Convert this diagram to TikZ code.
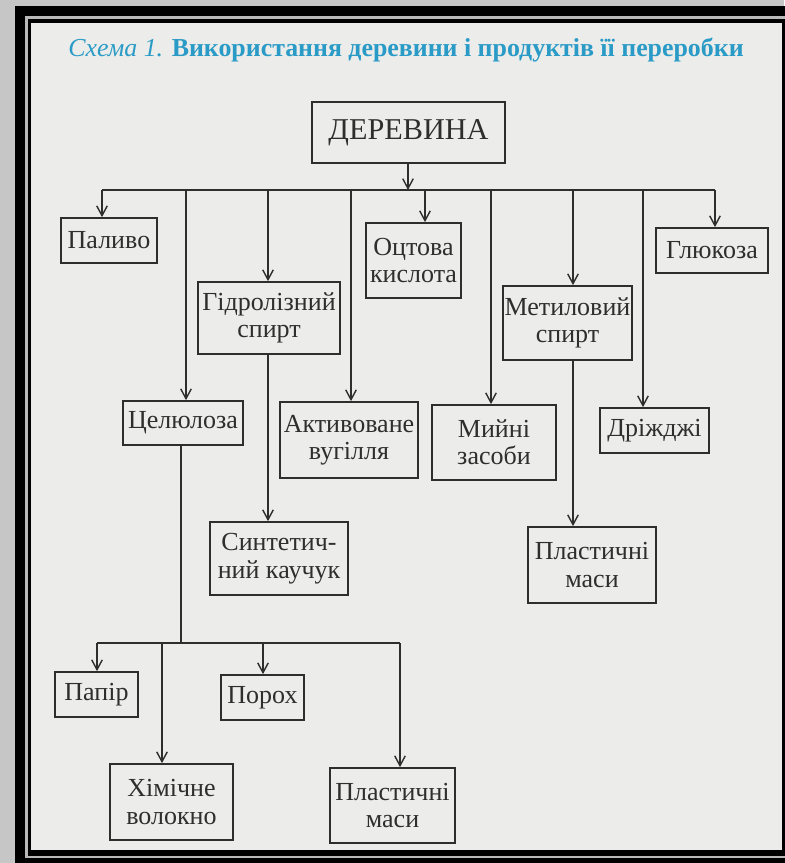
\documentclass[tikz,border=0pt]{standalone}
\usepackage{fontspec}
\setmainfont{Liberation Serif}
\usetikzlibrary{arrows.meta}
\definecolor{titleblue}{HTML}{2A9BC6}
\definecolor{inkgray}{HTML}{2E2E2E}
\definecolor{pagegray}{HTML}{ECECEA}
\definecolor{slidegray}{HTML}{C6C6C6}
\tikzset{
    box/.style={draw=inkgray, line width=1.2pt, fill=pagegray, text=inkgray,
        align=center, inner sep=1pt, font=\fontsize{18.5}{19.5}\selectfont},
    arr/.style={draw=inkgray, line width=1pt, -{Straight Barb[length=7pt,width=7.5pt]}},
    link/.style={draw=inkgray, line width=1pt},
}

\begin{document}
\begin{tikzpicture}[x=0.025cm, y=-0.025cm]
    % Frame
    \useasboundingbox (0,0) rectangle (784,863);
    \fill[slidegray] (0,0) rectangle (784,863);
    \fill[black] (15,6) rectangle (800,880);
    \draw[gray!55, line width=2pt] (26.5,17.5) rectangle (800,857);
    \fill[pagegray] (31,23) rectangle (782,850);

    % Title
    \node[anchor=base west, inner sep=0pt, text=titleblue, font=\fontsize{18.4}{22}\selectfont]
        (title) at (68,56) {\textit{Схема 1.} \textbf{Використання деревини і продуктів її переробки}};

    % Boxes
    \node[box, minimum width=4.825cm, minimum height=1.525cm, font=\fontsize{21.5}{24}\selectfont]
        (derevyna) at (408.5,132.5) {ДЕРЕВИНА};
    \node[box, minimum width=2.4cm, minimum height=1.125cm] (palyvo) at (109,240.5) {Паливо};
    \node[box, minimum width=2.375cm, minimum height=1.875cm] (otstova) at (413.5,260.5) {Оцтова\\кислота};
    \node[box, minimum width=2.8cm, minimum height=1.125cm] (hlukoza) at (712,250.5) {Глюкоза};
    \node[box, minimum width=3.55cm, minimum height=1.8cm] (hidroliz) at (269,318) {Гідролізний\\спирт};
    \node[box, minimum width=3.225cm, minimum height=1.85cm] (metyl) at (567.5,323) {Метиловий\\спирт};
    \node[box, minimum width=3cm, minimum height=1.1cm] (tselul) at (183,423) {Целюлоза};
    \node[box, minimum width=3.45cm, minimum height=1.9cm] (aktyv) at (349,440) {Активоване\\вугілля};
    \node[box, minimum width=3.1cm, minimum height=1.875cm] (myini) at (494,442.5) {Мийні\\засоби};
    \node[box, minimum width=2.725cm, minimum height=1.125cm] (drizh) at (654.5,430.5) {Дріжджі};
    \node[box, minimum width=3.45cm, minimum height=1.825cm] (kauchuk) at (279,558.5) {Синтетич-\\ний каучук};
    \node[box, minimum width=3.2cm, minimum height=1.9cm] (plastA) at (592,565) {Пластичні\\маси};
    \node[box, minimum width=2.075cm, minimum height=1.125cm] (papir) at (96.5,694.5) {Папір};
    \node[box, minimum width=2.075cm, minimum height=1.125cm] (porokh) at (262.5,697.5) {Порох};
    \node[box, minimum width=3.075cm, minimum height=1.9cm] (volokno) at (171.5,802) {Хімічне\\волокно};
    \node[box, minimum width=3.125cm, minimum height=1.875cm] (plastB) at (392.5,805.5) {Пластичні\\маси};

    % Upper bus
    \coordinate (busA) at (102,190);
    \coordinate (busB) at (715,190);
    \draw[link] (busA) -- (busB);
    \draw[arr] (408,0 |- derevyna.south) -- (408,0 |- busA);
    \foreach \x/\n in {102/palyvo, 186/tselul, 268/hidroliz, 351/aktyv, 425/otstova,
                       491/myini, 573/metyl, 643/drizh, 715/hlukoza}
        \draw[arr] (\x,190) -- (\x,0 |- \n.north);

    % Second row
    \draw[arr] (268,0 |- hidroliz.south) -- (268,0 |- kauchuk.north);
    \draw[arr] (573,0 |- metyl.south) -- (573,0 |- plastA.north);

    % Lower bus
    \coordinate (busC) at (97,643);
    \coordinate (busD) at (400,643);
    \draw[link] (181,0 |- tselul.south) -- (181,643);
    \draw[link] (busC) -- (busD);
    \foreach \x/\n in {97/papir, 162/volokno, 263/porokh, 400/plastB}
        \draw[arr] (\x,643) -- (\x,0 |- \n.north);
\end{tikzpicture}
\end{document}
